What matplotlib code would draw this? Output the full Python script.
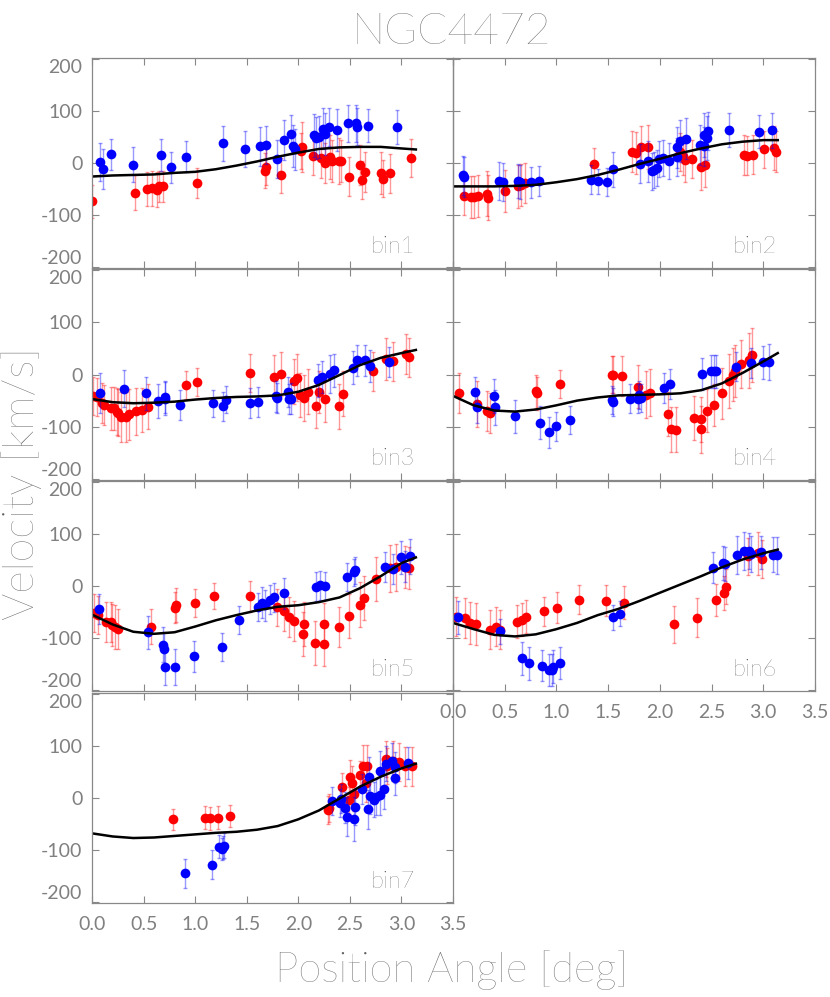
"""NGC4472 velocity vs position angle, seven radial bins."""

import matplotlib
matplotlib.use("Agg")
import matplotlib.pyplot as plt

# ---------- data ----------

# model curve sampled along position angle (rad)
PA_GRID = [0.0, 0.2, 0.4, 0.6, 0.8, 1.0, 1.2, 1.4, 1.6, 1.8, 2.0, 2.2, 2.4, 2.6, 2.8, 3.0, 3.14]

bin1_model = [-26, -24, -23, -22, -19, -17, -12, -5, 3, 12, 20, 27, 30, 31, 31, 28, 26]
bin2_model = [-45, -45, -45, -44, -42, -37, -31, -23, -13, -2, 8, 19, 28, 36, 41, 44, 44]
bin3_model = [-47, -53, -55, -54, -52, -48, -45, -43, -42, -40, -33, -20, -1, 18, 32, 41, 47]
bin4_model = [-41, -59, -69, -71, -67, -59, -50, -44, -40, -39, -38, -36, -30, -17, 3, 25, 41]
bin5_model = [-55, -74, -88, -92, -89, -78, -66, -56, -47, -40, -37, -31, -22, -4, 19, 44, 55]
bin6_model = [-71, -83, -94, -97, -93, -83, -71, -56, -44, -29, -13, 3, 19, 36, 51, 63, 70]
bin7_model = [-68, -74, -77, -76, -73, -70, -67, -65, -61, -54, -41, -24, -1, 22, 41, 57, 66]

bin1_blue_pa = [0.08, 0.11, 0.18, 0.40, 0.67, 0.77, 0.91, 1.27, 1.48, 1.63, 1.69, 1.79, 1.86, 1.93,
                1.95, 1.97, 2.15, 2.17, 2.20, 2.24, 2.26, 2.30, 2.38, 2.48, 2.56, 2.57, 2.68, 2.96]
bin1_blue_v = [2, -12, 17, -3, 15, -8, 12, 38, 27, 32, 35, 8, 44, 55,
               33, 26, 53, 48, 50, 66, 56, 69, 64, 76, 76, 70, 72, 69]
bin1_blue_err = [36, 38, 30, 34, 31, 30, 30, 34, 34, 37, 37, 37, 38, 38,
                 40, 40, 42, 40, 40, 40, 40, 37, 40, 35, 35, 35, 32, 32]
bin1_red_pa = [0.00, 0.42, 0.53, 0.58, 0.63, 0.65, 0.69, 1.02, 1.68, 1.69, 1.83, 2.03, 2.04, 2.14,
               2.22, 2.26, 2.31, 2.33, 2.39, 2.41, 2.49, 2.60, 2.62, 2.65, 2.80, 2.82, 2.89, 3.09]
bin1_red_v = [-74, -57, -50, -49, -51, -45, -45, -39, -15, -8, -24, 23, 30, 14,
              10, 0, 12, 4, 4, 4, -26, -4, -33, -17, -19, -30, -20, 10]
bin1_red_err = [32, 33, 33, 33, 33, 30, 30, 29, 34, 34, 33, 35, 48, 38,
                38, 38, 42, 40, 45, 40, 37, 38, 37, 38, 40, 36, 38, 37]

bin2_blue_pa = [0.10, 0.11, 0.44, 0.48, 0.63, 0.65, 0.75, 0.83, 1.33, 1.40, 1.49, 1.55, 1.81, 1.89, 1.92, 1.94,
                1.97, 1.99, 2.03, 2.09, 2.17, 2.17, 2.19, 2.25, 2.39, 2.43, 2.43, 2.46, 2.47, 2.67, 2.96, 3.08]
bin2_blue_v = [-24, -27, -35, -37, -34, -37, -37, -34, -32, -35, -37, -12, -1, 3, -16, -13,
               -10, 8, 10, 4, 12, 30, 42, 47, 35, 32, 54, 48, 62, 64, 60, 63]
bin2_blue_err = [38, 38, 37, 37, 33, 33, 30, 29, 28, 24, 27, 34, 38, 40, 35, 35,
                 35, 35, 35, 35, 37, 40, 41, 40, 38, 38, 42, 42, 37, 33, 32, 34]
bin2_red_pa = [0.11, 0.17, 0.20, 0.24, 0.33, 0.34, 0.50, 0.63, 0.66, 0.70, 1.36, 1.73, 1.77, 1.82,
               1.89, 2.19, 2.22, 2.24, 2.31, 2.40, 2.44, 2.81, 2.84, 2.90, 3.01, 3.10, 3.12]
bin2_red_v = [-63, -65, -65, -64, -59, -67, -54, -45, -42, -38, -1, 22, 19, 31,
              31, 21, 14, 6, 8, -8, -4, 15, 14, 16, 26, 29, 22]
bin2_red_err = [37, 40, 40, 40, 43, 43, 40, 42, 40, 38, 30, 40, 40, 40,
                43, 37, 37, 43, 37, 43, 42, 38, 38, 38, 35, 42, 40]

bin3_blue_pa = [0.08, 0.31, 0.52, 0.64, 0.71, 0.71, 0.85, 1.17, 1.27, 1.30, 1.53, 1.61, 1.78,
                1.79, 1.90, 1.91, 1.93, 2.19, 2.23, 2.31, 2.35, 2.53, 2.57, 2.65, 2.70, 2.88]
bin3_blue_v = [-35, -27, -36, -51, -46, -43, -58, -55, -61, -48, -55, -52, -42,
               -45, -34, -47, -46, -11, -5, 1, 8, 13, 27, 27, 16, 24]
bin3_blue_err = [38, 36, 32, 32, 31, 31, 29, 26, 28, 26, 29, 29, 29,
                 29, 29, 29, 29, 32, 30, 37, 31, 32, 29, 29, 30, 29]
bin3_red_pa = [0.01, 0.05, 0.10, 0.12, 0.18, 0.21, 0.24, 0.25, 0.28, 0.33, 0.36, 0.43, 0.48, 0.54, 0.91, 1.02, 1.53,
               1.76, 1.83, 1.96, 1.99, 2.02, 2.06, 2.09, 2.17, 2.20, 2.26, 2.39, 2.43, 2.72, 2.85, 2.92, 3.04, 3.07]
bin3_red_v = [-41, -43, -55, -58, -65, -65, -71, -73, -82, -81, -76, -70, -68, -62, -20, -14, 3,
              -4, 1, -13, -6, -40, -45, -33, -60, -34, -46, -61, -37, 6, 29, 25, 39, 33]
bin3_red_err = [37, 37, 38, 38, 42, 42, 45, 45, 48, 48, 49, 45, 43, 43, 27, 27, 37,
                42, 42, 43, 45, 42, 44, 43, 43, 40, 45, 43, 43, 37, 40, 38, 38, 37]

bin4_blue_pa = [0.21, 0.23, 0.40, 0.41, 0.60, 0.84, 0.93, 1.00, 1.13, 1.54, 1.55, 1.71, 1.79,
                1.80, 1.82, 2.04, 2.10, 2.41, 2.49, 2.52, 2.54, 2.74, 2.88, 3.00, 3.06]
bin4_blue_v = [-34, -62, -41, -63, -80, -92, -111, -99, -87, -49, -53, -46, -46,
               -40, -45, -26, -18, 1, 6, 6, 6, 15, 22, 23, 24]
bin4_blue_err = [30, 30, 33, 33, 32, 32, 30, 28, 27, 27, 27, 27, 27,
                 27, 27, 28, 28, 30, 31, 31, 31, 28, 29, 32, 34]
bin4_red_pa = [0.06, 0.23, 0.33, 0.36, 0.80, 0.81, 1.03, 1.54, 1.55, 1.63, 1.79, 1.87, 1.90, 2.08,
               2.11, 2.16, 2.33, 2.40, 2.40, 2.46, 2.52, 2.60, 2.67, 2.71, 2.73, 2.78, 2.86, 2.89]
bin4_red_v = [-36, -57, -70, -74, -32, -36, -18, 0, 0, -3, -23, -39, -35, -76,
              -105, -106, -83, -86, -105, -69, -59, -36, -12, 0, 6, 21, 27, 37]
bin4_red_err = [38, 44, 38, 38, 32, 32, 27, 35, 35, 38, 42, 45, 45, 42,
                43, 43, 42, 43, 45, 41, 40, 49, 52, 51, 50, 46, 53, 52]

bin5_blue_pa = [0.07, 0.54, 0.69, 0.70, 0.71, 0.80, 0.99, 1.26, 1.43, 1.61, 1.65, 1.68, 1.73,
                1.76, 1.86, 2.17, 2.21, 2.26, 2.47, 2.54, 2.55, 2.84, 2.92, 3.00, 3.03, 3.08]
bin5_blue_v = [-44, -89, -113, -122, -156, -156, -135, -117, -65, -40, -32, -37, -26,
               -22, -14, -1, 1, 0, 18, 26, 30, 36, 32, 55, 37, 57]
bin5_blue_err = [29, 32, 34, 34, 34, 34, 30, 27, 27, 27, 30, 30, 28,
                 28, 30, 27, 27, 27, 27, 26, 26, 29, 29, 32, 30, 34]
bin5_red_pa = [0.02, 0.06, 0.14, 0.18, 0.19, 0.22, 0.25, 0.57, 0.80, 0.81, 1.00, 1.18, 1.53, 1.79, 1.86, 1.91,
               1.96, 2.05, 2.06, 2.16, 2.25, 2.25, 2.39, 2.49, 2.60, 2.64, 2.75, 2.89, 2.95, 3.03, 3.07]
bin5_red_v = [-52, -56, -69, -69, -75, -79, -83, -78, -42, -37, -33, -19, -20, -41, -48, -60,
              -67, -92, -73, -110, -74, -112, -79, -58, -36, -23, 13, 34, 36, 36, 35]
bin5_red_err = [37, 37, 38, 38, 40, 43, 38, 33, 30, 33, 27, 25, 30, 35, 38, 38,
                38, 42, 42, 42, 42, 42, 38, 43, 43, 42, 42, 45, 45, 40, 40]

bin6_blue_pa = [0.05, 0.45, 0.67, 0.73, 0.86, 0.93, 0.96, 0.97, 1.03, 1.55, 1.61,
                2.51, 2.61, 2.63, 2.75, 2.81, 2.86, 2.88, 2.98, 3.09, 3.13]
bin6_blue_v = [-60, -87, -139, -149, -153, -162, -162, -155, -148, -60, -53,
               35, 44, 42, 60, 67, 67, 62, 65, 60, 59]
bin6_blue_err = [32, 24, 32, 31, 30, 31, 31, 31, 30, 24, 24,
                 30, 33, 33, 37, 37, 35, 35, 32, 34, 35]
bin6_red_pa = [0.03, 0.12, 0.16, 0.22, 0.36, 0.42, 0.45, 0.62, 0.67, 0.71, 0.88, 1.01,
               1.22, 1.48, 1.65, 2.14, 2.36, 2.54, 2.62, 2.64, 2.85, 2.95, 2.99]
bin6_red_v = [-59, -62, -71, -73, -84, -78, -84, -69, -65, -59, -49, -42,
              -26, -28, -32, -74, -61, -27, -13, -1, 57, 63, 52]
bin6_red_err = [38, 38, 40, 40, 37, 37, 37, 32, 32, 32, 28, 30,
                27, 29, 32, 35, 37, 30, 33, 33, 36, 41, 37]

bin7_blue_pa = [0.90, 1.16, 1.23, 1.26, 1.27, 1.28, 2.33, 2.40, 2.41, 2.45, 2.47, 2.54, 2.55, 2.62,
                2.68, 2.69, 2.70, 2.73, 2.75, 2.79, 2.79, 2.83, 2.85, 2.91, 2.94, 2.94, 3.06]
bin7_blue_v = [-145, -128, -94, -98, -95, -92, -6, -10, -1, -19, -36, -40, -17, 17,
               -22, 41, 3, -3, 2, 52, 6, 17, 66, 72, 59, 38, 68]
bin7_blue_err = [28, 28, 22, 22, 22, 24, 27, 27, 27, 30, 37, 42, 35, 29,
                 38, 38, 34, 34, 34, 38, 38, 38, 34, 34, 30, 32, 31]
bin7_red_pa = [0.79, 1.10, 1.14, 1.22, 1.34, 2.29, 2.30, 2.42, 2.49, 2.50, 2.52,
               2.54, 2.60, 2.63, 2.66, 2.67, 2.85, 2.86, 2.92, 2.98, 3.03, 3.10]
bin7_red_v = [-41, -38, -39, -38, -34, -23, -19, 22, -4, 40, 28,
              8, 45, 62, 28, 61, 75, 61, 71, 69, 61, 61]
bin7_red_err = [20, 22, 22, 22, 21, 27, 27, 26, 26, 33, 33,
                33, 26, 40, 35, 40, 35, 35, 38, 37, 37, 38]

BIN_LABELS = ["bin1", "bin2", "bin3", "bin4", "bin5", "bin6", "bin7"]
X_TICKS = [0.0, 0.5, 1.0, 1.5, 2.0, 2.5, 3.0, 3.5]
Y_TICKS = [-200, -100, 0, 100, 200]

BINS = [
    (bin1_red_pa, bin1_red_v, bin1_red_err, bin1_blue_pa, bin1_blue_v, bin1_blue_err, bin1_model),
    (bin2_red_pa, bin2_red_v, bin2_red_err, bin2_blue_pa, bin2_blue_v, bin2_blue_err, bin2_model),
    (bin3_red_pa, bin3_red_v, bin3_red_err, bin3_blue_pa, bin3_blue_v, bin3_blue_err, bin3_model),
    (bin4_red_pa, bin4_red_v, bin4_red_err, bin4_blue_pa, bin4_blue_v, bin4_blue_err, bin4_model),
    (bin5_red_pa, bin5_red_v, bin5_red_err, bin5_blue_pa, bin5_blue_v, bin5_blue_err, bin5_model),
    (bin6_red_pa, bin6_red_v, bin6_red_err, bin6_blue_pa, bin6_blue_v, bin6_blue_err, bin6_model),
    (bin7_red_pa, bin7_red_v, bin7_red_err, bin7_blue_pa, bin7_blue_v, bin7_blue_err, bin7_model),
]

# ---------- layout (pixels of an 830x997 canvas) ----------

W, H = 830, 997
COL_X = [(92, 453), (453, 815)]
ROW_Y = [(58, 268), (269, 480), (481, 691), (693, 903)]
GRAY = "#888888"
TXT = "#808080"
BIG = "#606060"

plt.rcParams["font.family"] = ["Lato", "DejaVu Sans"]
plt.rcParams["font.weight"] = "normal"


def rect(row, col):
    x0, x1 = COL_X[col]
    y0, y1 = ROW_Y[row]
    return [x0 / W, 1 - y1 / H, (x1 - x0) / W, (y1 - y0) / H]


def draw_points(ax, pa, v, err, color):
    ax.errorbar(pa, v, yerr=err, fmt="none", ecolor=color, alpha=0.4,
                elinewidth=1.0, capsize=1.6, capthick=1.0)
    ax.plot(pa, v, "o", color=color, ms=7, mec="none")


fig = plt.figure(figsize=(W / 100, H / 100), dpi=100)

for i, (rpa, rv, re, bpa, bv, be, model) in enumerate(BINS):
    row, col = divmod(i, 2)
    ax = fig.add_axes(rect(row, col))
    ax.patch.set_visible(False)
    draw_points(ax, rpa, rv, re, "#ff0000")
    draw_points(ax, bpa, bv, be, "#0000ff")
    ax.plot(PA_GRID, model, color="black", lw=1.8)

    ax.set_xlim(0, 3.5)
    ax.set_ylim(-202, 202)
    ax.set_xticks(X_TICKS)
    ax.set_yticks(Y_TICKS)
    ax.set_xticklabels([f"{t:.1f}" for t in X_TICKS])
    ylabels = ax.set_yticklabels([str(t) for t in Y_TICKS])
    # keep the end labels inside the panel, so stacked panels do not collide
    ylabels[0].set_va("bottom")
    ylabels[-1].set_va("top")
    ax.tick_params(direction="in", length=5, width=0.8, color=GRAY,
                   top=True, right=True, labelsize=14, labelcolor=TXT)
    ax.tick_params(axis="y", pad=7)
    ax.tick_params(axis="x", pad=9)
    for s in ax.spines.values():
        s.set_color(GRAY)
        s.set_linewidth(0.9)
    ax.tick_params(axis="x", labelbottom=(i >= 5))
    ax.tick_params(axis="y", labelleft=(col == 0))
    ax.text(0.895, 0.07, BIN_LABELS[i], transform=ax.transAxes, ha="right",
            va="baseline", fontsize=17, color="#404040", fontweight="light")

fig.text(452 / W, 1 - 33 / H, "NGC4472", ha="center", va="center",
         fontsize=32, color=BIG, fontweight="light")
fig.text(452 / W, 1 - 970 / H, "Position Angle [deg]", ha="center",
         va="center", fontsize=30, color=BIG, fontweight="light")
fig.text(22 / W, 1 - 484 / H, "Velocity [km/s]", ha="center", va="center",
         rotation=90, fontsize=31, color=BIG, fontweight="light")

fig.savefig("out.png", dpi=100)
